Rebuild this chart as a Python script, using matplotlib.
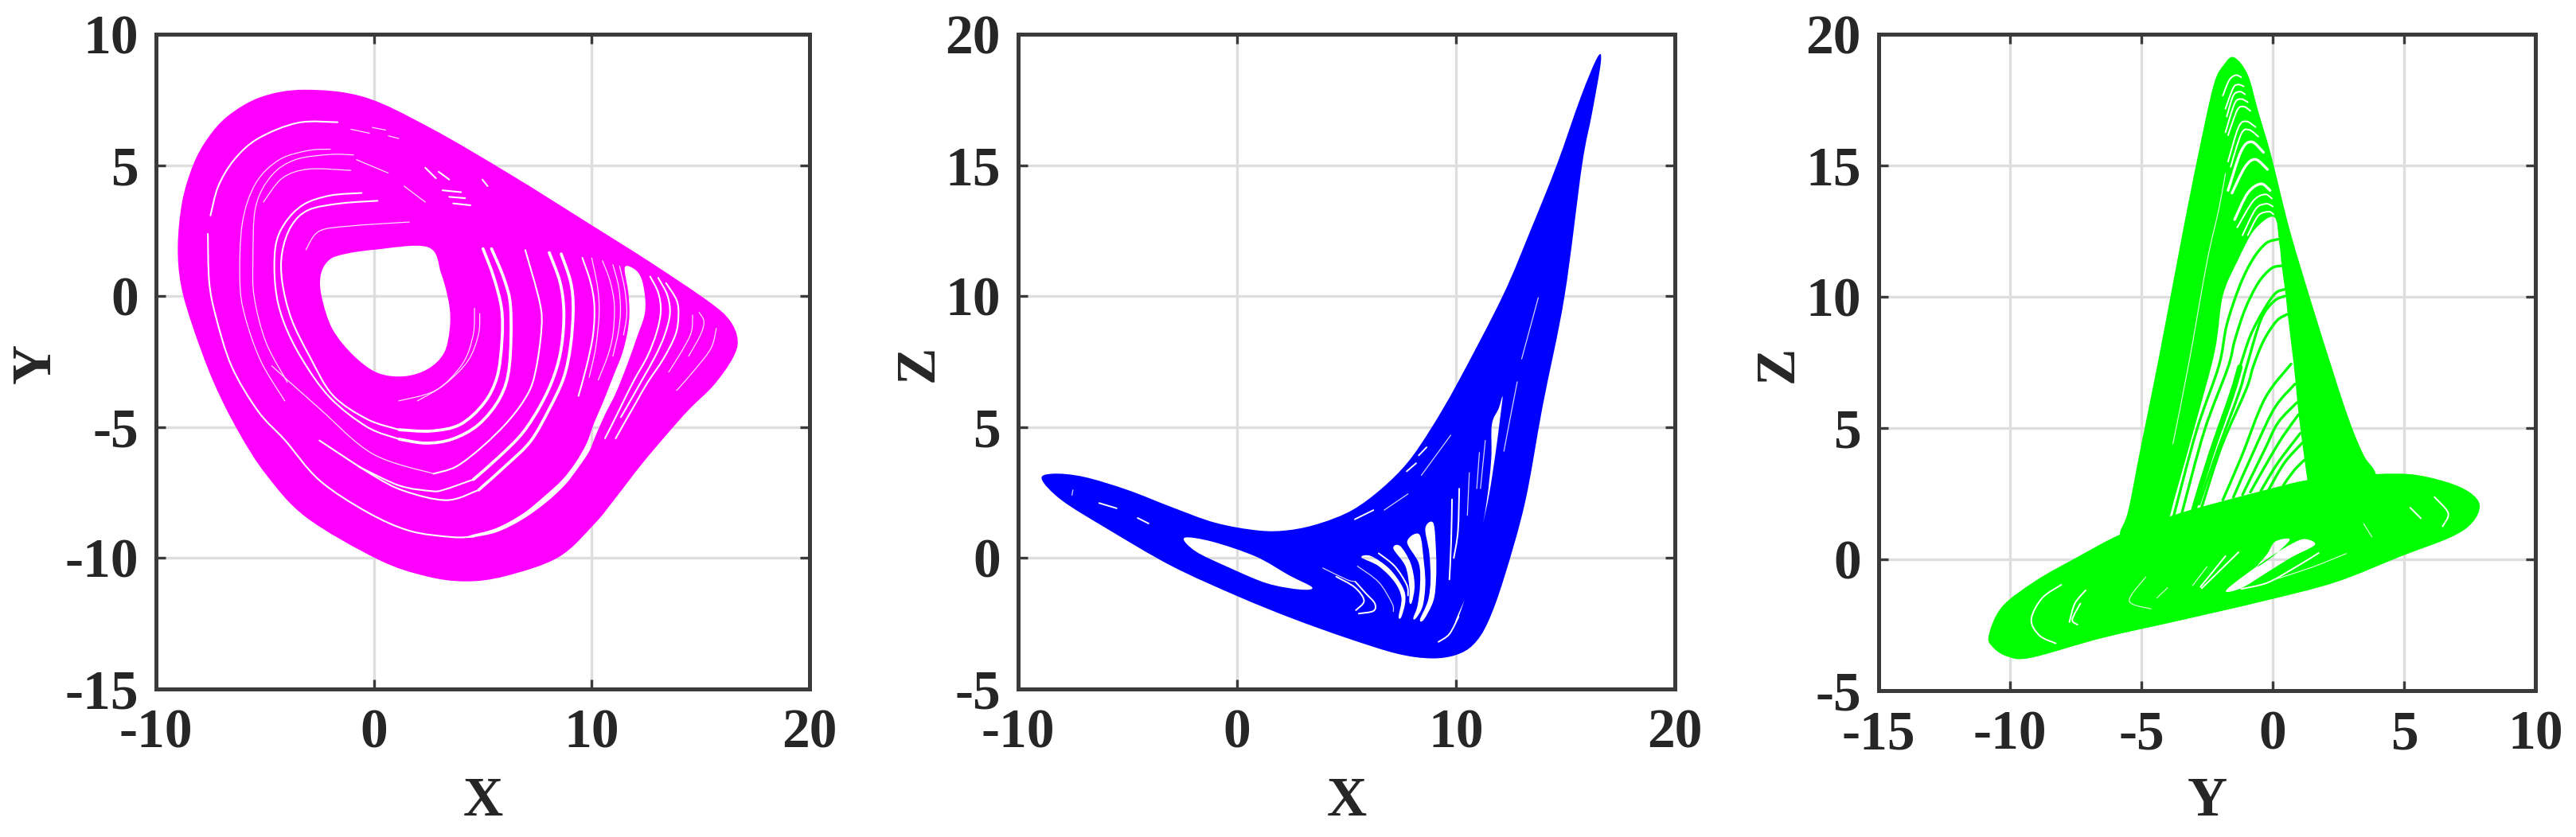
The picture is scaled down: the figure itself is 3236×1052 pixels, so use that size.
"""
Three phase portraits of a chaotic attractor: X-Y, X-Z and Y-Z.
Outlines, holes and gaps are traced by eye from the figure.
"""
import numpy as np
import matplotlib
matplotlib.use("Agg")
import matplotlib.pyplot as plt
from matplotlib.patches import PathPatch
from matplotlib.path import Path

plt.rcParams["font.family"] = ["Liberation Serif", "DejaVu Serif"]
plt.rcParams["font.weight"] = "bold"
plt.rcParams["axes.unicode_minus"] = False

# ── Panel 1: X-Y ──────────────────────────────────────────────────────────
xy_outer = [(-3.2, 7.88), (-0.44, 7.6), (2.6, 6.42), (6.26, 4.65), (9.88, 2.77), (12.68, 1.3), (15.36, -0.2),
            (16.33, -0.92), (16.7, -1.68), (16.46, -2.39), (15.6, -3.4), (14.5, -4.3), (13.53, -5.2), (12.31, -6.4),
            (11.1, -7.7), (10.12, -8.7), (8.47, -9.97), (6.03, -10.69), (4.2, -10.89), (2.38, -10.69),
            (0.18, -10.05), (-3.1, -8.45), (-4.93, -6.83), (-6.2, -5.2), (-7.35, -3.3), (-8.3, -1.2),
            (-8.85, 0.4), (-9, 1.9), (-8.8, 3.6), (-8.3, 5), (-7.65, 6), (-6.7, 6.88), (-5.19, 7.6)]
xy_hole = [(-2.14, 1.31), (-1.53, 1.57), (0, 1.77), (2.48, 1.87), (3.09, 0.86), (3.46, -0.35), (3.48, -1.26),
           (3.22, -2.17), (2.48, -2.78), (1.39, -3.06), (0.17, -2.93), (-0.93, -2.27), (-1.9, -1.26),
           (-2.39, -0.05), (-2.45, 0.76)]
xy_crescent = [(11.52, 1.10), (12.01, 1.0), (12.31, 0.6), (12.46, -0.16), (12.41, -0.77), (12.07, -1.58),
               (11.64, -2.59), (11.1, -3.71), (10.61, -4.52), (10.18, -5.33), (9.88, -5.93), (9.39, -6.54),
               (8.78, -7.2), (7.93, -7.86), (6.83, -8.52), (5.61, -9.02), (4.4, -9.22),
               (4.4, -9.14), (5.61, -8.86), (6.83, -8.31), (7.81, -7.65), (8.66, -7.0), (9.27, -6.34),
               (9.76, -5.63), (10.12, -4.82), (10.49, -4.11), (10.97, -3.1), (11.4, -2.19), (11.64, -1.38),
               (11.73, -0.67), (11.68, 0.14)]
xy_gaps_wide = [
    [(1.16, -5.1), (2.62, -5.15), (3.96, -4.9), (5.05, -4.09), (5.66, -3.07), (5.88, -1.68), (5.86, -0.47),
     (5.49, 0.75), (5.01, 1.81)],
    [(1.16, -5.46), (2.38, -5.61), (3.59, -5.46), (4.81, -4.9), (5.79, -3.88), (6.22, -2.66), (6.28, -0.47),
     (5.98, 0.65), (5.4, 1.81)],
    [(8.05, 1.66), (8.54, 0.55), (8.72, -0.57), (8.62, -1.88), (8.29, -3.0), (7.69, -4.11), (6.83, -5.22),
     (5.74, -6.14), (4.57, -7.0)],
    [(8.6, 1.61), (9.03, 0.55), (9.15, -0.47), (9.03, -1.88), (8.72, -3.1), (8.05, -4.31), (7.2, -5.53),
     (6.1, -6.44), (4.81, -7.4)],
]
xy_gaps_mid = [
    [(0.17, 3.64), (-1.53, 3.54), (-3, 3.29), (-3.79, 2.68), (-4.21, 1.67), (-4.21, 0.56), (-3.79, -0.86),
     (-2.95, -2.3), (-1.89, -3.78), (-0.3, -4.7), (1.16, -5.1)],
    [(-0.56, 3.94), (-2.02, 3.84), (-3.24, 3.49), (-4.09, 2.78), (-4.52, 1.87), (-4.52, 0.35), (-4.15, -0.96),
     (-3.3, -2.4), (-2.01, -3.88), (-0.3, -5.0), (1.16, -5.46)],
    [(6.95, 1.76), (7.62, -0.26), (7.69, -1.28), (7.44, -2.79), (7.08, -3.71), (6.22, -4.72), (5.0, -5.73),
     (3.79, -6.5), (2.74, -6.78)],
    [(9.57, 1.46), (9.94, 0.55), (10.12, -0.36), (10.06, -1.48), (9.76, -2.69), (9.39, -3.81)],
    [(12.68, 0.75), (13.05, 0.14), (13.17, -0.57), (12.98, -1.38), (12.56, -2.29), (11.95, -3.2),
     (11.46, -4.01), (11.04, -4.72), (10.61, -5.43)],
    [(13.05, 0.7), (13.47, 0.04), (13.59, -0.67), (13.35, -1.48), (12.92, -2.29), (12.31, -3.2),
     (11.83, -3.91), (11.34, -4.62)],
    [(13.41, 0.5), (13.9, -0.16), (13.98, -0.77), (13.84, -1.48), (13.29, -2.39), (12.56, -3.3),
     (12.07, -4.01), (11.58, -4.72), (11.1, -5.43)],
    [(-7.62, 2.38), (-7.56, 0.56), (-7.26, -0.76), (-6.53, -2.68), (-5.31, -4.4), (-4.08, -5.5), (-2.5, -7.03),
     (-0.3, -8.25), (1.64, -8.96), (3.6, -9.2), (4.6, -9.18)],
    [(-7.5, 3.08), (-7.14, 4.2), (-6.41, 5.21), (-5.31, 6.02), (-3.48, 6.62), (-1.66, 6.64)],
    [(4.57, -7.0), (3.18, -7.4), (2.62, -7.44), (1.16, -7.23), (-0.67, -6.52)],
    [(4.81, -7.4), (3.35, -7.79), (1.4, -7.44), (-0.06, -6.83), (-2.5, -5.51)],
    [(2.36, 4.9), (2.85, 4.5)],
    [(2.97, 4.75), (3.46, 4.45)],
    [(3.15, 4.04), (4.0, 3.97)],
    [(3.46, 3.79), (4.19, 3.74)],
    [(3.64, 3.54), (4.43, 3.47)],
    [(4.98, 4.45), (5.22, 4.2)],
]
xy_gaps_thin = [
    [(10, 1.46), (10.27, 0.34), (10.34, -0.67), (10.18, -1.98), (9.88, -3.1)],
    [(10.49, 1.36), (10.85, 0.55), (11.04, -0.36), (10.97, -1.48), (10.73, -2.29), (10.3, -3.2)],
    [(10.97, 1.2), (11.24, 0.34), (11.32, -0.57), (11.22, -1.38), (10.97, -2.29)],
    [(11.28, 1.15), (11.52, 0.24), (11.61, -0.67), (11.46, -1.48)],
    [(14.63, -0.72), (14.57, -1.38), (14.14, -2.09), (13.53, -2.9)],
    [(14.93, -0.62), (15.15, -0.97), (14.99, -1.48), (14.45, -2.29)],
    [(15.72, -1.23), (15.48, -1.98), (14.75, -2.79), (13.9, -3.6)],
    [(2.74, -6.78), (-0.06, -6.02), (-2.5, -4.29), (-4.69, -2.66)],
    [(-2, 5.61), (-3, 5.56), (-4.34, 5.21), (-5.43, 4.3), (-6.04, 2.78), (-6.15, 0.56), (-5.92, -0.76),
     (-5.19, -2.48), (-4.09, -4.0)],
    [(-0.93, 5.39), (-2, 5.41), (-3.6, 5.21), (-4.7, 4.6), (-5.43, 3.39), (-5.55, 1.37), (-5.49, -0.05),
     (-4.95, -1.77), (-3.97, -3.29)],
    [(-5.07, 3.59), (-4.21, 4.5), (-3, 4.85), (-1.05, 4.8)],
    [(-3.12, 1.77), (-2.51, 2.48), (-1.05, 2.68), (1.63, 2.83)],
    [(4.86, -0.66), (4.8, -1.47), (4.31, -2.48), (3.22, -3.39), (2, -4.0)],
    [(4.62, -0.46), (4.56, -1.47), (4.07, -2.58), (2.85, -3.59), (1.14, -4.0)],
    [(-1.05, 6.37), (-0.2, 6.22)],
    [(-0.07, 6.44), (0.54, 6.34)],
    [(0.66, 6.12), (1.14, 6.02)],
    [(-0.8, 5.21), (0.66, 4.7)],
    [(1.39, 4.2), (2.36, 3.59)],
]

# ── Panel 2: X-Z ──────────────────────────────────────────────────────────
xz_outer = [(-8.92, 3.01), (-8.4, 3.22), (-7, 3.1), (-5, 2.6), (-3, 1.95), (-1, 1.35), (1, 1.05), (2.4, 1.07),
            (3.8, 1.33), (5.26, 1.83), (6.6, 2.65), (7.81, 3.67), (8.9, 5.0), (10.1, 6.73), (12.13, 10),
            (13.4, 12.5), (14.6, 15), (15.7, 17.6), (16.45, 19.1), (16.62, 18.95), (16.22, 17), (15.76, 15),
            (14.96, 10), (13.96, 5.8), (13.16, 2.14), (12.2, -0.75), (11.46, -2.45), (10.8, -3.3), (10, -3.7),
            (8.87, -3.83), (7.3, -3.65), (5, -3.05), (2.5, -2.3), (0, -1.45), (-3, -0.3), (-5.9, 1.1), (-8, 2.2)]
xz_hole = [(-2.41, 0.77), (-1.15, 0.63), (0.85, 0.06), (2.36, -0.65), (3.43, -1.12), (2.86, -1.2),
           (1.35, -0.96), (-0.4, -0.35), (-1.9, 0.26)]
xz_crescent = [(12.13, 6.17), (12.01, 5.3), (11.82, 4.08), (11.52, 2.45), (11.16, 1.02), (10.73, -0.71),
               (10.12, -2.24), (10, -2.34), (10.61, -1.12), (11.03, 0.41), (11.4, 2.14), (11.61, 3.77),
               (11.64, 5.1), (11.95, 5.71)]
xz_fan_a = [(8.6, 1.14), (8.78, 0.2), (8.84, -0.82), (8.72, -1.63), (8.36, -2.34),
            (8.54, -2.34), (8.97, -1.63), (9.09, -0.82), (9.09, 0.2), (8.97, 1.33)]
xz_fan_b = [(7.77, 0.61), (8.3, -0.2), (8.36, -1.02), (8.24, -1.83), (8.05, -2.29),
            (8.18, -2.29), (8.48, -1.83), (8.6, -1.02), (8.54, -0.2), (8.33, 0.9)]
xz_fan_c = [(7.14, 0.36), (7.69, -0.31), (7.87, -1.12), (7.87, -1.68),
            (7.99, -1.68), (8.11, -1.02), (7.93, -0.2), (7.45, 0.46)]
xz_fan_d = [(5.68, 0.02), (6.47, -0.31), (7.2, -0.92), (7.51, -1.53), (7.38, -2.24),
            (7.51, -2.24), (7.69, -1.63), (7.57, -1.12), (6.96, -0.41), (6.11, 0.08)]
xz_gaps_mid = [
    [(6.47, 0.18), (7.2, -0.31), (7.75, -1.02), (7.81, -1.43)],
    [(4.53, -0.71), (5.38, -1.12), (5.8, -1.63), (5.43, -1.99)],
    [(5.4, -0.9), (5.86, -1.33), (6.29, -1.73), (6.23, -2.02), (5.56, -2.12)],
    [(9.82, 2.24), (9.78, 0.61), (9.7, -0.82)],
    [(10.15, 2.65), (10.09, 1.02), (9.9, 0)],
    [(10.12, -2.24), (9.7, -2.9), (9.2, -3.2)],
    [(5.38, 1.48), (6.23, 1.83)],
    [(7.75, 3.31), (8.18, 3.62)],
    [(8.3, 3.92), (8.66, 4.23)],
    [(-6.3, 2.1), (-5.5, 1.9)],
    [(-4.54, 1.53), (-4.04, 1.32)],
]
xz_gaps_thin = [
    [(3.92, -0.38), (5.01, -0.82), (5.4, -0.9)],
    [(5.5, -0.31), (6.47, -0.92), (7.08, -1.73), (7.14, -2.04)],
    [(10.61, 3.26), (10.52, 1.63)],
    [(11.34, 4.49), (11.12, 2.65)],
    [(11.07, 4.03), (10.95, 2.65)],
    [(12.8, 6.73), (12.49, 5.4), (12.19, 4.08)],
    [(13.76, 9.94), (13.0, 7.6)],
    [(6.72, 1.83), (7.81, 2.45)],
    [(8.42, 3.16), (9.76, 4.69)],
    [(-7.54, 2.4), (-7.5, 2.6)],
]

# ── Panel 3: Y-Z ──────────────────────────────────────────────────────────
yz_peak = [(-5.8, 0.93), (-5.5, 1.85), (-5, 4.39), (-4.35, 7.6), (-3.45, 12.34), (-2.85, 15.35), (-2.25, 18.06),
           (-1.85, 18.85), (-1.47, 19.12), (-0.95, 18.46), (-0.55, 17.06), (-0.05, 15.35), (0.65, 12.54),
           (1.55, 9.53), (2.23, 7.37), (2.7, 5.91), (3.1, 4.8), (3.5, 3.9), (3.94, 3.2), (3.9, 2), (-5, 0.9)]
yz_base = [(-10.81, -2.9), (-10.3, -1.8), (-9, -0.8), (-7.5, 0.05), (-5.8, 0.95), (-3.92, 1.63), (-2.7, 2.0),
           (-0.2, 2.66), (1.32, 3.02), (3, 3.2), (5.12, 3.25), (6.6, 2.95), (7.5, 2.55), (7.88, 2.05), (7.6, 1.4),
           (6.8, 0.85), (4.9, 0.12), (2.4, -0.87), (-0.3, -1.58), (-3.4, -2.3), (-6.5, -3.0), (-9.2, -3.75),
           (-10.1, -3.7), (-10.65, -3.35)]
yz_hole = [(-3.95, 1.1), (-3.92, 1.63), (-2.9, 5.3), (-2.2, 7.95), (-1.9, 10.03), (-1.35, 11.34), (-0.7, 12.54),
           (0.05, 13.04), (0.25, 12.04), (0.35, 11.13), (0.5, 10.03), (0.57, 9.33), (0.8, 7.42), (0.9, 6.42),
           (1, 5.41), (1.2, 3.88), (1.32, 3.02), (1.4, 2.5), (-0.2, 2.1), (-2.7, 1.4)]
yz_wedge_a = [(-1.75, -1.15), (-0.2, 0.02), (0.8, 0.63), (1.25, 0.77), (1.6, 0.55), (0.7, 0.07), (-0.2, -0.49),
              (-1.2, -1.1)]
yz_wedge_b = [(-0.2, 0.22), (0.1, 0.68), (0.65, 0.75), (0, 0.11), (-0.6, -0.28)]
yz_strands_wide = [
    [(-1.25, 7.32), (-1.55, 6.3), (-2.35, 4), (-3, 1.9)],
]
yz_strands_mid = [
    [(0.2, 12.19), (-0.25, 12.04), (-0.75, 11.44), (-1.25, 10.43), (-1.75, 8.93), (-2.05, 7.37), (-2.9, 4.9),
     (-3.77, 1.65)],
    [(0.35, 11.18), (-0.05, 11.08), (-0.55, 10.53), (-1.05, 9.53), (-1.45, 8.32), (-1.7, 7.32), (-2.6, 4.9),
     (-3.46, 1.75)],
    [(0.45, 10.28), (0.1, 10.13), (-0.35, 9.48), (-0.85, 8.52), (-1.25, 7.32)],
    [(0.47, 10.03), (0.05, 9.83), (-0.45, 9.13), (-1.0, 7.32), (-1.3, 6.3), (-2.15, 4.0), (-2.8, 2.1)],
    [(0.55, 9.33), (0.15, 9.08), (-0.35, 8.32), (-0.75, 7.32), (-1.0, 6.5), (-1.95, 4.3), (-2.7, 2)],
    [(-1.9, 2.26), (-1.2, 3.88), (-0.3, 6.12), (0.7, 7.44)],
    [(-1.5, 2.36), (-0.6, 4.39), (0.1, 5.81), (0.85, 6.68)],
    [(-1.15, 2.46), (-0.3, 4.19), (0.2, 5.2), (0.92, 5.97)],
    [(-0.85, 2.56), (-0.1, 3.88), (0.4, 4.7), (0.98, 5.51)],
    [(-0.45, 2.61), (0.2, 3.68), (1.05, 4.8)],
    [(-0.15, 2.66), (0.45, 3.68), (1.13, 4.44)],
    [(0.4, 2.81), (0.8, 3.37), (1.2, 3.78)],
]
yz_gaps_wide = [
    [(-1.7, 14.05), (-1.2, 15.55), (-0.8, 15.9), (-0.35, 15.5)],
    [(-1.55, 13.95), (-1.05, 14.95), (-0.65, 15.23), (-0.2, 14.85)],
    [(-1.45, 12.94), (-0.95, 13.95), (-0.45, 14.3), (-0.1, 14.05)],
]
yz_gaps_mid = [
    [(1.75, 0.24), (0.8, -0.34), (-0.2, -0.89), (-1.2, -1.13)],
    [(-1.3, 0.27), (-2.7, -1.1)],
    [(-1.8, 0.12), (-2.75, -1.05)],
    [(-8.05, -0.97), (-8.78, -1.48), (-9.19, -2.29), (-8.88, -2.9), (-8.26, -3.2)],
    [(-7.12, -1.18), (-7.53, -1.68), (-7.74, -2.39)],
    [(-7.32, -1.68), (-7.63, -2.29), (-7.43, -2.49)],
    [(6.16, 2.37), (6.68, 1.76), (6.47, 1.26)],
    [(5.23, 1.97), (5.64, 1.56)],
    [(-1.9, 17.66), (-1.65, 18.26), (-1.4, 18.44), (-1.2, 18.36)],
    [(-1.8, 17.16), (-1.5, 17.96), (-1.3, 18.08), (-1.1, 18.01)],
    [(-1.75, 16.86), (-1.5, 17.66), (-1.25, 17.81), (-1.05, 17.71)],
    [(-1.8, 16.26), (-1.45, 17.36), (-1.2, 17.53), (-0.95, 17.41)],
    [(-1.7, 16.15), (-1.35, 17.11), (-1.1, 17.24), (-0.85, 17.08)],
    [(-1.7, 15.15), (-1.3, 16.46), (-1.0, 16.68), (-0.65, 16.46)],
    [(-1.6, 14.95), (-1.2, 16.2), (-0.9, 16.36), (-0.55, 16.1)],
    [(-1.35, 12.64), (-0.75, 13.64), (-0.3, 13.9), (-0.03, 13.74)],
    [(-1.15, 12.34), (-0.65, 13.34), (-0.25, 13.54), (0, 13.44)],
    [(-0.95, 12.34), (-0.55, 13.09), (-0.15, 13.24), (0.03, 13.14)],
]
yz_gaps_thin = [
    [(-3.8, 4.4), (-3.2, 7.42), (-2.5, 11.34), (-2.05, 13.34), (-1.8, 14.7)],
    [(0, -0.79), (1.5, -0.3), (2.8, 0.22)],
    [(-2.5, -0.28), (-3.05, -1.0)],
    [(-4.83, -0.67), (-5.46, -1.58), (-4.63, -1.89)],
    [(-4, -1.08), (-4.42, -1.48)],
    [(3.46, 1.36), (3.78, 0.85)],
]

# ── Axes ──────────────────────────────────────────────────────────────────
x_ticks_xy = [-10, 0, 10, 20]
y_ticks_xy = [-15, -10, -5, 0, 5, 10]
x_ticks_xz = [-10, 0, 10, 20]
y_ticks_xz = [-5, 0, 5, 10, 15, 20]
x_ticks_yz = [-15, -10, -5, 0, 5, 10]
y_ticks_yz = [-5, 0, 5, 10, 15, 20]

W, H = 3236, 1052
TEXT_COLOR = "#262626"
SPINE_COLOR = "#3a3a3a"
GRID_COLOR = "#dedede"


def smooth(points, closed=False):
    # Catmull-Rom through the traced points, as cubic bezier segments
    p = np.array(points, dtype=float)
    n = len(p)
    verts, codes = [p[0]], [Path.MOVETO]
    for i in range(n if closed else n - 1):
        if closed:
            p0, p1, p2, p3 = p[(i - 1) % n], p[i], p[(i + 1) % n], p[(i + 2) % n]
        else:
            p0, p1, p2, p3 = p[max(i - 1, 0)], p[i], p[i + 1], p[min(i + 2, n - 1)]
        verts += [p1 + (p2 - p0) / 6, p2 - (p3 - p1) / 6, p2]
        codes += [Path.CURVE4] * 3
    return Path(verts, codes)


def area(points):
    p = np.array(points)
    return 0.5 * np.sum(p[:, 0] * np.roll(p[:, 1], -1) - np.roll(p[:, 0], -1) * p[:, 1])


def draw_band(ax, outer, holes, color):
    # holes go against the outline winding so the grid shows through them
    paths = [smooth(outer, closed=True)]
    for hole in holes:
        same = area(hole) * area(outer) > 0
        paths.append(smooth(hole[::-1] if same else hole, closed=True))
    ax.add_patch(PathPatch(Path.make_compound_path(*paths), facecolor=color,
                           edgecolor="none", zorder=2))


def draw_lines(ax, lines, color, lw, zorder=3):
    for line in lines:
        ax.add_patch(PathPatch(smooth(line), facecolor="none", edgecolor=color,
                               lw=lw, capstyle="round", zorder=zorder))


def setup_axes(box, xlim, ylim, xticks, yticks, xlabel, ylabel, ylabel_px):
    left, right, top, bottom = box
    ax = fig.add_axes([left / W, 1 - bottom / H, (right - left) / W, (bottom - top) / H])
    ax.set_xlim(xlim)
    ax.set_ylim(ylim)
    ax.set_xticks(xticks)
    ax.set_yticks(yticks)
    ax.set_axisbelow(True)
    ax.grid(True, color=GRID_COLOR, linewidth=2.4)
    ax.tick_params(direction="in", length=8.5, width=2.4, color=SPINE_COLOR,
                   top=True, right=True, labelsize=50, labelcolor=TEXT_COLOR, pad=18)
    ax.tick_params(axis="y", pad=16)
    for spine in ax.spines.values():
        spine.set_color(SPINE_COLOR)
        spine.set_linewidth(3.6)
    fig.text((left + right) / 2 / W, 1 - 1008 / H, xlabel, fontsize=50, color=TEXT_COLOR,
             ha="center", va="center")
    fig.text(ylabel_px / W, 1 - (top + bottom) / 2 / H - 0.002, ylabel, fontsize=50, color=TEXT_COLOR,
             ha="center", va="center", rotation=90)
    return ax


fig = plt.figure(figsize=(W / 100, H / 100), dpi=100, facecolor="white")

ax1 = setup_axes((196, 1017, 43, 866), (-10, 20), (-15, 10), x_ticks_xy, y_ticks_xy, "X", "Y", 46)
draw_band(ax1, xy_outer, [xy_hole, xy_crescent], "#ff00ff")
draw_lines(ax1, xy_gaps_wide, "white", 2.7)
draw_lines(ax1, xy_gaps_mid, "white", 1.5)
draw_lines(ax1, xy_gaps_thin, "#ffe0ff", 0.9)

ax2 = setup_axes((1279, 2104, 43, 866), (-10, 20), (-5, 20), x_ticks_xz, y_ticks_xz, "X", "Z", 1155)
draw_band(ax2, xz_outer, [xz_hole, xz_crescent, xz_fan_a, xz_fan_b, xz_fan_c, xz_fan_d], "#0000ff")
draw_lines(ax2, xz_gaps_mid, "white", 1.4)
draw_lines(ax2, xz_gaps_thin, "#d0d0ff", 0.9)

ax3 = setup_axes((2360, 3185, 43, 868), (-15, 10), (-5, 20), x_ticks_yz, y_ticks_yz, "Y", "Z", 2235)
draw_band(ax3, yz_peak, [yz_hole], "#00ff00")
draw_band(ax3, yz_base, [yz_wedge_a, yz_wedge_b], "#00ff00")
draw_lines(ax3, yz_strands_wide, "#00ff00", 5)
draw_lines(ax3, yz_strands_mid, "#00ff00", 2.4)
draw_lines(ax3, yz_gaps_wide, "white", 2.4)
draw_lines(ax3, yz_gaps_mid, "white", 1.4)
draw_lines(ax3, yz_gaps_thin, "#d0ffd0", 0.9)

plt.savefig("out.png", dpi=100, facecolor="white")
